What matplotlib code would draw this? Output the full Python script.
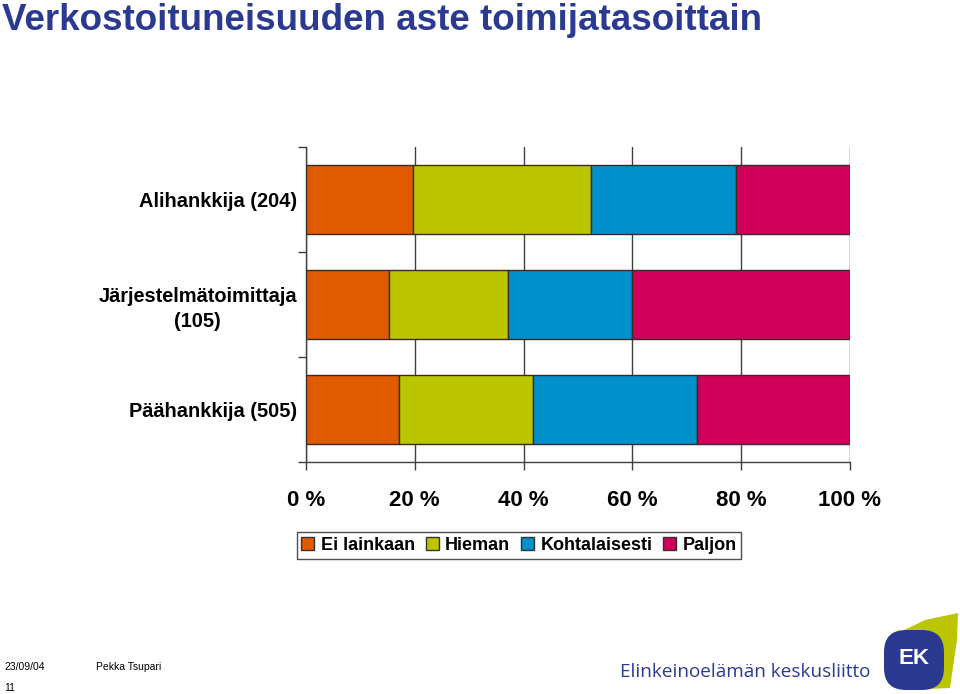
import matplotlib
matplotlib.use("Agg")
import matplotlib.pyplot as plt
import numpy as np
from matplotlib.patches import Polygon, FancyBboxPatch

categories = ["Alihankkija (204)", "Järjestelmätoimittaja\n(105)", "Päähankkija (505)"]
series_names = ["Ei lainkaan", "Hieman", "Kohtalaisesti", "Paljon"]
ei_lainkaan = [19.7, 15.3, 17.1]
hieman = [32.7, 21.8, 24.7]
kohtalaisesti = [26.6, 22.9, 30.1]
paljon = [21.0, 40.0, 28.1]
xtick_values = [0, 20, 40, 60, 80, 100]
xtick_labels = ["0 %", "20 %", "40 %", "60 %", "80 %", "100 %"]
colors = ["#E05A00", "#BCC600", "#0090CC", "#D00058"]

W, H = 960, 694
fig = plt.figure(figsize=(9.6, 6.94), dpi=100)
plt.rcParams['font.family'] = ['Liberation Sans', 'DejaVu Sans']

ax = fig.add_axes([306 / W, 1 - 462 / H, 544 / W, 315 / H])
ypos = np.arange(len(categories))
left = np.zeros(len(categories))
for vals, col, name in zip([ei_lainkaan, hieman, kohtalaisesti, paljon], colors, series_names):
    ax.barh(ypos, vals, left=left, height=0.65, color=col, edgecolor="#3a2a2a",
            linewidth=1.0, label=name, zorder=3)
    left = left + np.array(vals)

ax.set_xlim(0, 100)
ax.set_ylim(2.5, -0.5)
ax.set_xticks(xtick_values)
ax.set_xticklabels(xtick_labels, fontsize=16, fontweight='bold')
ax.tick_params(axis='x', direction='out', length=6, width=1, color="#404040", pad=14)
ax.set_yticks([-0.5, 0.5, 1.5, 2.5])
ax.set_yticklabels([])
ax.tick_params(axis='y', which='major', direction='out', length=6, width=1, color="#404040")
ax.set_yticks(ypos, minor=True)
ax.set_yticklabels(categories, minor=True, fontsize=14.4, fontweight='bold',
                   multialignment='center', linespacing=1.35)
ax.tick_params(axis='y', which='minor', length=0, pad=6.5)
ax.grid(axis='x', color="#404040", linewidth=1.0, zorder=0)
ax.set_axisbelow(True)
for s in ['top', 'right']:
    ax.spines[s].set_visible(False)
for s in ['left', 'bottom']:
    ax.spines[s].set_color("#404040")
    ax.spines[s].set_linewidth(1.0)

handles = [plt.Rectangle((0, 0), 1, 1, facecolor=c, edgecolor="#333333", linewidth=1) for c in colors]
leg = fig.legend(handles, series_names, loc='center', bbox_to_anchor=(519 / W, 1 - 545.5 / H),
                 ncol=4, prop={'size': 13.0, 'weight': 'bold'}, frameon=True, fancybox=False,
                 edgecolor="#222222", handlelength=0.72, handleheight=0.72, handletextpad=0.35,
                 columnspacing=0.6, borderpad=0.25, borderaxespad=0)
leg.get_frame().set_linewidth(1.0)

fig.text(2 / W, 1 - 3 / H, "Verkostoituneisuuden aste toimijatasoittain", fontsize=26.5,
         fontweight='bold', color="#2B3990", ha='left', va='top')

fig.text(4 / W, 1 - 667 / H, "23/09/04", fontsize=7.5, ha='left', va='center')
fig.text(96 / W, 1 - 667 / H, "Pekka Tsupari", fontsize=7.5, ha='left', va='center')
fig.text(4 / W, 1 - 688 / H, "11", fontsize=7.5, ha='left', va='center')

fig.text(620 / W, 1 - 672 / H, "Elinkeinoelämän keskusliitto", fontsize=13.6,
         family=['Open Sans', 'DejaVu Sans'], color="#2B3990", ha='left', va='center')

# EK logo (decorative)
lax = fig.add_axes([878 / W, 0, 82 / W, 82 / H])
lax.set_xlim(878, 960)
lax.set_ylim(694, 612)
lax.axis('off')
lax.add_patch(Polygon([(892, 636), (925, 620), (958, 613), (957, 640), (950, 688), (905, 690)],
                      closed=True, facecolor="#BCC600", edgecolor='none'))
lax.add_patch(FancyBboxPatch((884, 630), 60, 60, boxstyle="round,pad=0,rounding_size=22",
                             facecolor="#2B3990", edgecolor='none'))
lax.text(914, 658, "EK", color='white', fontsize=16, fontweight='bold', ha='center', va='center')

fig.savefig("out.png", dpi=100)
